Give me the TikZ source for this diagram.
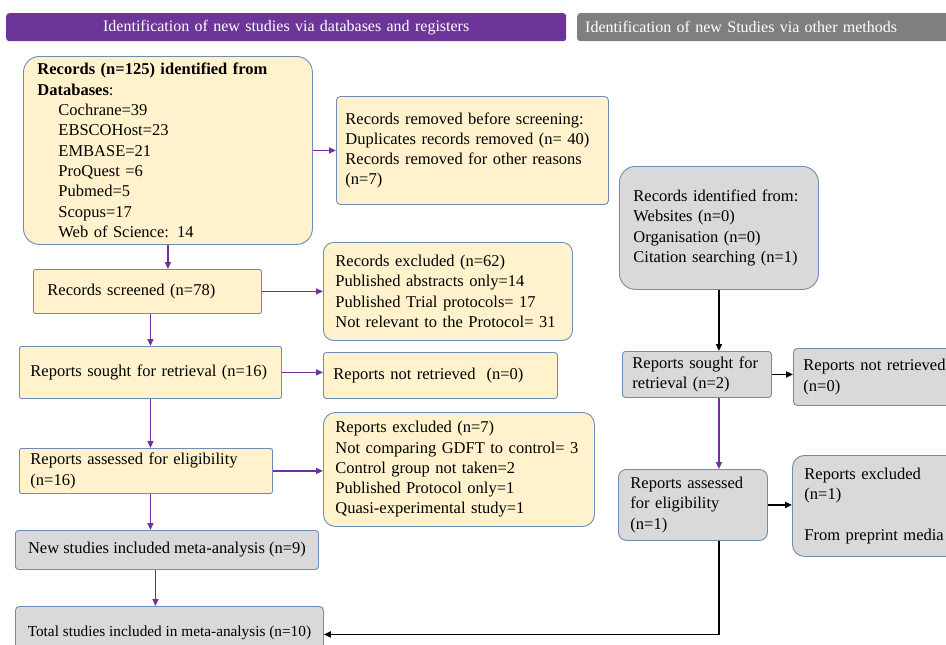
\documentclass[tikz,border=0pt]{standalone}
\usepackage{fontspec}
\setmainfont{Liberation Serif}
\usetikzlibrary{arrows.meta}
\definecolor{hdpurple}{HTML}{6C3597}
\definecolor{hdgray}{HTML}{7F7F7F}
\definecolor{boxyel}{HTML}{FFF2CC}
\definecolor{boxgray}{HTML}{D9D9D9}
\definecolor{boxline}{HTML}{6F8CB8}
\definecolor{arrpurple}{HTML}{7030A0}
\begin{document}
\begin{tikzpicture}[x=1pt,y=-1pt,
	box/.style={draw=boxline,line width=0.9pt,anchor=north west,align=left,inner xsep=11pt,inner ysep=2pt,font=\fontsize{16.5}{20.3}\selectfont},
	yel/.style={box,fill=boxyel},
	gry/.style={box,fill=boxgray},
	hd/.style={anchor=north west,text=white,font=\fontsize{16}{18}\selectfont,rounded corners=3pt,minimum height=28pt,inner xsep=8pt},
	parrow/.style={arrpurple,line width=1.4pt,-{Triangle[length=7pt,width=6pt]}},
	barrow/.style={black,line width=1.8pt,-{Triangle[length=7pt,width=6pt]}}]
	\useasboundingbox (0,0) rectangle (946,645);
	\clip (0,0) rectangle (946,645);
	% headers
	\node[hd,fill=hdpurple,text width=544pt,align=center] (hdleft) at (6,13) {Identification of new studies via databases and registers};
	\node[hd,fill=hdgray,text width=384pt,align=left] (hdright) at (577,13) {Identification of new Studies via other methods};
	% databases and registers
	\node[yel,rounded corners=16pt,inner xsep=14pt,minimum width=289pt,minimum height=188pt,text width=261pt] (recA) at (23,56)
	{\textbf{Records (n=125) identified from}\\\textbf{Databases}:\\
	\hspace*{21pt}Cochrane=39\\\hspace*{21pt}EBSCOHost=23\\\hspace*{21pt}EMBASE=21\\\hspace*{21pt}ProQuest =6\\
	\hspace*{21pt}Pubmed=5\\\hspace*{21pt}Scopus=17\\\hspace*{21pt}Web of Science: 14};
	\node[yel,rounded corners=4pt,inner xsep=9pt,minimum width=272pt,minimum height=108pt,text width=254pt] (remB) at (336,96)
	{Records removed before screening:\\Duplicates records removed (n= 40)\\Records removed for other reasons\\(n=7)};
	\node[yel,rounded corners=2pt,inner xsep=14pt,minimum width=228pt,minimum height=44pt,text width=200pt] (scrC) at (33,269) {Records screened (n=78)};
	\node[yel,rounded corners=10pt,inner xsep=12pt,minimum width=249pt,minimum height=98pt,text width=225pt] (exclD) at (323,242)
	{Records excluded (n=62)\\Published abstracts only=14\\Published Trial protocols= 17\\Not relevant to the Protocol= 31};
	\node[yel,rounded corners=2pt,minimum width=262pt,minimum height=52pt,text width=240pt] (soughtE) at (19,346) {Reports sought for retrieval (n=16)};
	\node[yel,rounded corners=3pt,inner xsep=10pt,minimum width=234pt,minimum height=46pt,text width=214pt] (notF) at (323,352) {Reports not retrieved\ \ (n=0)};
	\node[yel,rounded corners=2pt,inner xsep=11pt,minimum width=253pt,minimum height=45pt,text width=231pt] (assG) at (19,448) {Reports assessed for eligibility\\(n=16)};
	\node[yel,rounded corners=12pt,inner xsep=12pt,minimum width=271pt,minimum height=114pt,text width=247pt] (exclH) at (323,412)
	{Reports excluded (n=7)\\Not comparing GDFT to control= 3\\Control group not taken=2\\Published Protocol only=1\\Quasi-experimental study=1};
	\node[gry,rounded corners=3pt,inner xsep=4pt,minimum width=303pt,minimum height=39pt] (newI) at (15,530) {New studies included meta-analysis (n=9)};
	\node[gry,rounded corners=4pt,inner xsep=4pt,minimum width=308pt,minimum height=52pt,font=\fontsize{15.3}{18}\selectfont] (totJ) at (15,606) {Total studies included in meta-analysis (n=10)};
	% other methods
	\node[gry,rounded corners=16pt,inner xsep=14pt,minimum width=199pt,minimum height=123pt,text width=171pt] (idK) at (619,166)
	{Records identified from:\\Websites (n=0)\\Organisation (n=0)\\Citation searching (n=1)};
	\node[gry,rounded corners=3pt,inner xsep=10pt,minimum width=149pt,minimum height=46pt,text width=129pt] (soughtL) at (622,351) {Reports sought for\\retrieval (n=2)};
	\node[gry,rounded corners=4pt,inner xsep=10pt,minimum width=175pt,minimum height=57pt,text width=155pt] (notM) at (793,348) {Reports not retrieved\\(n=0)};
	\node[gry,rounded corners=8pt,inner xsep=12pt,minimum width=149pt,minimum height=71pt,text width=125pt] (assN) at (618,469) {Reports assessed\\for eligibility\\(n=1)};
	\node[gry,rounded corners=12pt,inner xsep=12pt,minimum width=175pt,minimum height=101pt,text width=151pt] (exclO) at (792,455) {Reports excluded\\(n=1)\\[20.3pt]From preprint media};
	% arrows
	\draw[parrow] (recA.east) -- (recA.east -| remB.west);
	\draw[parrow] (recA.south) -- (recA.south |- scrC.north);
	\draw[parrow] (scrC.east) -- (scrC.east -| exclD.west);
	\draw[parrow] (soughtE.north |- scrC.south) -- (soughtE.north);
	\draw[parrow] (soughtE.east) -- (soughtE.east -| notF.west);
	\draw[parrow] (soughtE.south) -- (soughtE.south |- assG.north);
	\draw[parrow] (assG.east) -- (assG.east -| exclH.west);
	\draw[parrow] (soughtE.south |- assG.south) -- (soughtE.south |- newI.north);
	\draw[parrow] ([xshift=5pt]soughtE.south |- newI.south) -- ([xshift=5pt]soughtE.south |- totJ.north);
	\draw[barrow] (idK.south) -- (idK.south |- soughtL.north);
	\draw[barrow] (soughtL.east) -- (soughtL.east -| notM.west);
	\draw[parrow] (idK.south |- soughtL.south) -- (idK.south |- assN.north);
	\draw[barrow] (assN.east) -- (assN.east -| exclO.west);
	\draw[barrow] (idK.south |- assN.south) |- ([yshift=-2pt]totJ.east);
\end{tikzpicture}
\end{document}
